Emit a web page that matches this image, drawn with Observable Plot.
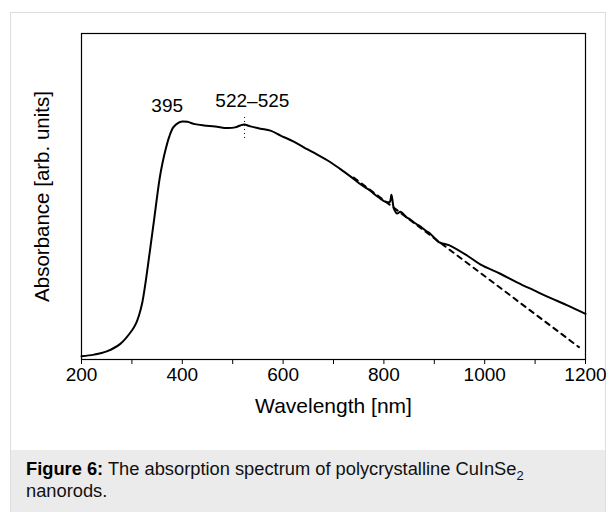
<!DOCTYPE html>
<html><head><meta charset="utf-8">
<script src="https://cdn.jsdelivr.net/npm/d3@7"></script>
<script src="https://cdn.jsdelivr.net/npm/@observablehq/plot@0.6"></script>
<style>
body{margin:0;background:#fff;font-family:"Liberation Sans",Arial,Helvetica,sans-serif;}
#fig{position:absolute;left:10px;top:12px;width:594px;border:1px solid #dedede;border-bottom:none;height:500px;}
#chart{height:437px;}
#cap{background:#ebebeb;padding:8px 14px 0 15px;font-size:18.3px;line-height:22px;height:60px;color:#111;}
#cap b{color:#000}
</style>
</head><body>
<div id="fig"><div id="chart"></div>
<div id="cap"><b>Figure 6:</b> The absorption spectrum of polycrystalline CuInSe<sub style="font-size:13px;vertical-align:-5px;line-height:0">2</sub><br>nanorods.</div></div>
<script>
const wavelength = [200,225,250,277,300,308,314,320,326,335,345,355,361,367,374,382,392,400,410,425,443,465,489,505,515,523,535,555,575,595,620,641,660,694,720,740,755,767,773,782,790,800,808,812,815,820,826,833,845,852,859,868,875,884,892,899,909,919,929,965,992,1031,1065,1098,1130,1164,1200];
const absorbance = [0.010,0.015,0.025,0.048,0.089,0.110,0.135,0.170,0.225,0.325,0.440,0.555,0.605,0.645,0.683,0.712,0.726,0.730,0.729,0.722,0.718,0.715,0.710,0.712,0.718,0.721,0.715,0.708,0.702,0.687,0.669,0.651,0.635,0.605,0.577,0.554,0.536,0.524,0.518,0.506,0.497,0.486,0.482,0.484,0.505,0.462,0.448,0.453,0.436,0.430,0.421,0.412,0.405,0.394,0.386,0.375,0.360,0.355,0.351,0.319,0.291,0.263,0.236,0.212,0.189,0.166,0.140];
const fitWavelength = [740,919,1187];
const fitAbsorbance = [0.558,0.350,0.038];
const majorTicks = [200,400,600,800,1000,1200];
const minorTicks = [300,500,700,900,1100];
const peakLabels = ["395","522–525"];
const peakLabelX = [370,539];
const peakLabelY = [0.779,0.794];
const markerX = [523.5];
const markerY1 = [0.678];
const markerY2 = [0.752];

const spectrum = wavelength.map((w,i)=>({w, a: absorbance[i]}));
const fit = fitWavelength.map((w,i)=>({w, a: fitAbsorbance[i]}));
const labels = peakLabels.map((t,i)=>({t, x: peakLabelX[i], y: peakLabelY[i]}));
const markers = markerX.map((x,i)=>({x, y1: markerY1[i], y2: markerY2[i]}));
const allTicks = [...majorTicks, ...minorTicks].sort((a,b)=>a-b);

const chart = Plot.plot({
  width: 594, height: 437,
  marginLeft: 70, marginRight: 20, marginTop: 20, marginBottom: 91,
  style: {fontFamily: '"Liberation Sans",Arial,sans-serif', fontSize: "19px", color: "black", background: "white", overflow: "visible"},
  x: {domain: [200,1200], ticks: allTicks, tickFormat: d => majorTicks.includes(d) ? String(d) : "", tickSize: 5, tickPadding: 3, label: null},
  y: {domain: [0,1], axis: null},
  marks: [
    Plot.frame({stroke: "black", strokeWidth: 1.2}),
    Plot.line(fit, {x: "w", y: "a", stroke: "black", strokeWidth: 2, strokeDasharray: "5,5"}),
    Plot.line(spectrum, {x: "w", y: "a", stroke: "black", strokeWidth: 2, curve: "catmull-rom"}),
    Plot.ruleX(markers, {x: "x", y1: "y1", y2: "y2", stroke: "black", strokeWidth: 1, strokeDasharray: "1,3"}),
    Plot.text(labels, {x: "x", y: "y", text: "t", fontSize: 19, fill: "black"}),
    Plot.text(["Wavelength [nm]"], {frameAnchor: "bottom", dy: 53, fontSize: 21, fill: "black"}),
    Plot.text(["Absorbance [arb. units]"], {frameAnchor: "left", textAnchor: "middle", rotate: -90, dx: -39, fontSize: 20.5, fill: "black"})
  ]
});
document.getElementById("chart").appendChild(chart);
</script>
</body></html>
